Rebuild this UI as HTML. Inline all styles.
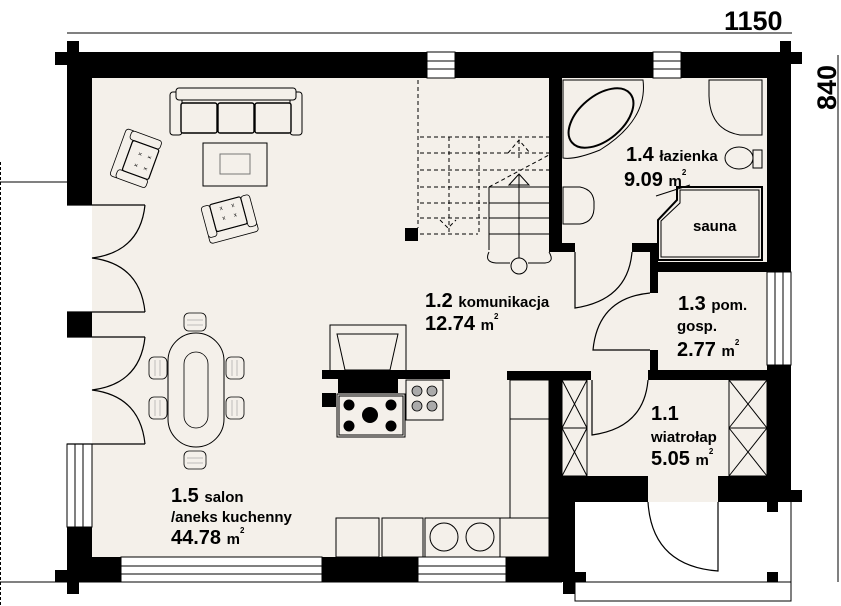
<!DOCTYPE html>
<html><head><meta charset="utf-8"><style>
html,body{margin:0;padding:0;background:#fff;}
svg{display:block;}
text{font-family:"Liberation Sans Narrow","Liberation Sans",sans-serif;font-weight:bold;fill:#000;}
</style></head><body>
<svg width="841" height="606" viewBox="0 0 841 606" xmlns="http://www.w3.org/2000/svg">
<defs>
<g id="chair">
 <rect x="-25" y="-18" width="50" height="10" rx="3" fill="#f4f0ea" stroke="#000" stroke-width="0.8"/>
 <rect x="-25" y="-12" width="9" height="32" rx="3" fill="#f4f0ea" stroke="#000" stroke-width="0.8"/>
 <rect x="16" y="-12" width="9" height="32" rx="3" fill="#f4f0ea" stroke="#000" stroke-width="0.8"/>
 <rect x="-16" y="-8" width="32" height="28" rx="2" fill="#f4f0ea" stroke="#000" stroke-width="1.2"/>
 <text x="-8" y="5" style="font-size:6px;font-weight:normal">x</text><text x="4" y="5" style="font-size:6px;font-weight:normal">x</text>
 <text x="-8" y="15" style="font-size:6px;font-weight:normal">x</text><text x="4" y="15" style="font-size:6px;font-weight:normal">x</text>
</g>
<g id="dchair">
 <rect x="-11" y="-9" width="22" height="18" rx="5" fill="#f4f0ea" stroke="#000" stroke-width="0.8"/>
 <line x1="-8" y1="-2" x2="8" y2="-2" stroke="#999" stroke-width="0.6"/>
 <line x1="-8" y1="3" x2="8" y2="3" stroke="#999" stroke-width="0.6"/>
</g>
</defs>

<rect x="92" y="78" width="675" height="479" fill="#f4f0ea"/>
<rect x="575" y="502" width="216" height="80" fill="#fff"/>

<line x1="67" y1="33" x2="792" y2="33" stroke="#000" stroke-width="1"/>
<text x="724" y="30" style="font-size:27px">1150</text>
<line x1="838" y1="55" x2="838" y2="582" stroke="#000" stroke-width="1"/>
<text transform="translate(836,110) rotate(-90)" style="font-size:27px">840</text>
<line x1="0.5" y1="162" x2="0.5" y2="606" stroke="#000" stroke-width="1" stroke-dasharray="3,2"/>
<line x1="0" y1="182" x2="67" y2="182" stroke="#000" stroke-width="1"/>
<line x1="0" y1="582" x2="562" y2="582" stroke="#000" stroke-width="1"/>

<g fill="#000">
 <rect x="67" y="52" width="724" height="26"/>
 <rect x="67" y="41" width="12" height="11"/><rect x="55" y="52" width="12" height="13"/>
 <rect x="780" y="41" width="11" height="11"/><rect x="791" y="52" width="11" height="12"/>
 <rect x="67" y="52" width="25" height="153"/>
 <rect x="67" y="312" width="25" height="25"/>
 <rect x="67" y="527" width="25" height="55"/>
 <rect x="67" y="557" width="495" height="25"/>
 <rect x="55" y="570" width="12" height="12"/><rect x="67" y="582" width="12" height="12"/>
 <rect x="767" y="52" width="24" height="220"/>
 <rect x="767" y="365" width="24" height="137"/>
 <rect x="791" y="490" width="11" height="12"/>
 <rect x="549" y="78" width="13" height="174"/>
 <rect x="549" y="243" width="26" height="9"/>
 <rect x="632" y="243" width="26" height="9"/>
 <rect x="650" y="243" width="8" height="50"/>
 <rect x="650" y="262" width="117" height="10"/>
 <rect x="650" y="350" width="8" height="30"/>
 <rect x="648" y="370" width="119" height="10"/>
 <rect x="507" y="371" width="84" height="9"/>
 <rect x="549" y="371" width="13" height="211"/>
 <rect x="549" y="476" width="26" height="106"/>
 <rect x="562" y="476" width="86" height="26"/>
 <rect x="718" y="476" width="73" height="26"/>
 <rect x="563" y="582" width="12" height="12"/>
 <rect x="405" y="228" width="13" height="13"/>
 <rect x="767" y="502" width="11" height="10"/>
 <rect x="767" y="572" width="11" height="10"/>
 <rect x="575" y="572" width="11" height="10"/>
</g>
<rect x="575" y="582" width="216" height="19" fill="none" stroke="#000" stroke-width="1"/>
<line x1="791" y1="502" x2="791" y2="582" stroke="#000"/>

<g stroke="#000" stroke-width="1" fill="#fff">
 <rect x="427" y="52" width="28" height="26"/><line x1="427" y1="61" x2="455" y2="61"/><line x1="427" y1="69" x2="455" y2="69"/>
 <rect x="653" y="52" width="28" height="26"/><line x1="653" y1="61" x2="681" y2="61"/><line x1="653" y1="69" x2="681" y2="69"/>
 <rect x="121" y="557" width="201" height="25"/><line x1="121" y1="566" x2="322" y2="566"/><line x1="121" y1="574" x2="322" y2="574"/>
 <rect x="418" y="557" width="88" height="25"/><line x1="418" y1="566" x2="506" y2="566"/><line x1="418" y1="574" x2="506" y2="574"/>
 <rect x="67" y="444" width="25" height="83"/><line x1="75" y1="444" x2="75" y2="527"/><line x1="83" y1="444" x2="83" y2="527"/>
 <rect x="767" y="272" width="24" height="93"/><line x1="775" y1="272" x2="775" y2="365"/><line x1="783" y1="272" x2="783" y2="365"/>
</g>
<rect x="322" y="557" width="96" height="25" fill="#000"/>
<rect x="506" y="557" width="56" height="25" fill="#000"/>

<g fill="none" stroke="#000" stroke-width="1.2">
 <path d="M67 205H145M67 312H145M145 205Q140 252 92 258Q140 264 145 312"/>
 <path d="M67 337H145M67 444H145M145 337Q140 384 92 390Q140 396 145 444"/>
 <path d="M575 252V308Q628 300 632 252"/>
 <path d="M650 350H593Q598 298 650 293"/>
 <path d="M592 380V435Q644 428 648 380"/>
 <path d="M718 502V571Q652 566 648 502"/>
</g>

<g fill="none" stroke="#000" stroke-width="1">
 <g stroke-dasharray="4,3">
  <line x1="418" y1="80" x2="418" y2="228"/>
  <line x1="420" y1="137" x2="549" y2="137"/>
  <line x1="420" y1="153" x2="549" y2="153"/>
  <line x1="420" y1="170" x2="549" y2="170"/>
  <line x1="420" y1="187" x2="489" y2="187"/>
  <line x1="420" y1="203" x2="489" y2="203"/>
  <line x1="420" y1="218" x2="489" y2="218"/>
  <line x1="420" y1="234" x2="478" y2="234"/>
  <line x1="449" y1="137" x2="449" y2="234"/>
  <line x1="479" y1="137" x2="479" y2="234"/>
  <line x1="489" y1="187" x2="549" y2="155"/>
  <path d="M508 153L519 140L530 153M519 140V160M440 220L448 228L456 220"/>
 </g>
 <path d="M489 187H549M489 203H549M489 218H549M489 234H549M489 187V250"/>
 <path d="M489 252Q484 262 496 263H510M528 263H545Q555 262 549 252"/>
 <line x1="519" y1="175" x2="519" y2="258"/>
 <path d="M509 185L519 174L529 185Z"/>
 <circle cx="519" cy="266" r="8"/>
</g>

<g fill="#f4f0ea" stroke="#000" stroke-width="1">
 <path d="M563 80H643Q648 120 600 150Q575 160 563 158Z"/>
 <ellipse cx="601" cy="118" rx="38" ry="22" transform="rotate(-40 601 118)" stroke-width="2"/>
 <path d="M709 80H762V135H740Q710 130 709 96Z"/>
 <ellipse cx="739" cy="158" rx="14" ry="11"/>
 <rect x="753" y="150" width="9" height="18"/>
 <path d="M563 187H580Q595 190 594 205Q595 222 580 224H563Z"/>
 <path d="M677 187H762V260H658V220L677 200Z" stroke-width="2"/>
 <path d="M680 190H759V257H661V221L680 203Z" fill="none"/>
 <line x1="656" y1="196" x2="690" y2="185"/>
</g>

<g fill="#f4f0ea" stroke="#000" stroke-width="1">
 <rect x="170" y="92" width="12" height="43" rx="3"/>
 <rect x="290" y="92" width="12" height="43" rx="3"/>
 <rect x="176" y="88" width="120" height="12" rx="3"/>
 <rect x="181" y="103" width="36" height="30" rx="2" stroke-width="1.4"/>
 <rect x="218" y="103" width="36" height="30" rx="2" stroke-width="1.4"/>
 <rect x="255" y="103" width="36" height="30" rx="2" stroke-width="1.4"/>
 <rect x="203" y="143" width="64" height="43"/>
 <rect x="220" y="154" width="30" height="20" stroke="#777"/>
</g>
<use href="#chair" transform="translate(135,158) rotate(-70)"/>
<use href="#chair" transform="translate(230,220) rotate(165)"/>

<use href="#dchair" transform="translate(195,322)"/>
<use href="#dchair" transform="translate(195,460)"/>
<use href="#dchair" transform="translate(158,368) rotate(90)"/>
<use href="#dchair" transform="translate(158,408) rotate(90)"/>
<use href="#dchair" transform="translate(235,368) rotate(90)"/>
<use href="#dchair" transform="translate(235,408) rotate(90)"/>
<rect x="168" y="333" width="56" height="114" rx="28" fill="#f4f0ea" stroke="#000" stroke-width="1"/>
<rect x="184" y="352" width="24" height="76" rx="12" fill="none" stroke="#000" stroke-width="0.8"/>

<g fill="#f4f0ea" stroke="#000" stroke-width="1">
 <rect x="330" y="325" width="76" height="48"/>
 <path d="M337 334H398L390 370H345Z"/>
 <rect x="337" y="394" width="68" height="43"/>
 <rect x="339" y="396" width="64" height="39" fill="none"/>
 <rect x="406" y="380" width="37" height="40"/>
 <rect x="510" y="380" width="39" height="140"/>
 <line x1="510" y1="419" x2="549" y2="419"/>
 <rect x="336" y="518" width="43" height="39"/>
 <rect x="382" y="518" width="41" height="39"/>
 <rect x="425" y="518" width="75" height="39"/>
 <rect x="500" y="518" width="49" height="39"/>
 <circle cx="444" cy="537" r="14"/><circle cx="480" cy="537" r="14"/>
</g>
<g fill="#000">
 <rect x="322" y="370" width="128" height="9"/>
 <rect x="338" y="370" width="60" height="23"/>
 <rect x="322" y="393" width="14" height="14"/>
 <circle cx="349" cy="405" r="5.5"/><circle cx="391" cy="405" r="5.5"/>
 <circle cx="349" cy="426" r="5.5"/><circle cx="391" cy="426" r="5.5"/>
 <circle cx="370" cy="415" r="8"/>
</g>
<g fill="#aaa" stroke="#000" stroke-width="0.8">
 <circle cx="417" cy="391" r="5"/><circle cx="432" cy="391" r="5"/>
 <circle cx="417" cy="406" r="5"/><circle cx="432" cy="406" r="5"/>
</g>

<g fill="#f4f0ea" stroke="#000" stroke-width="1">
 <rect x="562" y="380" width="25" height="96"/>
 <path d="M562 380L587 428M587 380L562 428M562 428H587M562 428L587 476M587 428L562 476"/>
 <rect x="729" y="380" width="38" height="96"/>
 <path d="M729 380L767 428M767 380L729 428M729 428H767M729 428L767 476M767 428L729 476"/>
</g>

<text x="626" y="161" style="font-size:20px">1.4 <tspan style="font-size:15px">łazienka</tspan></text>
<text x="624" y="186" style="font-size:20px">9.09 <tspan style="font-size:15px">m</tspan><tspan style="font-size:8px" dy="-11">2</tspan></text>
<text x="693" y="231" style="font-size:15px">sauna</text>
<text x="425" y="307" style="font-size:20px">1.2 <tspan style="font-size:15px">komunikacja</tspan></text>
<text x="425" y="330" style="font-size:20px">12.74 <tspan style="font-size:15px">m</tspan><tspan style="font-size:8px" dy="-11">2</tspan></text>
<text x="678" y="310" style="font-size:20px">1.3 <tspan style="font-size:15px">pom.</tspan></text>
<text x="677" y="331" style="font-size:15px">gosp.</text>
<text x="677" y="356" style="font-size:20px">2.77 <tspan style="font-size:15px">m</tspan><tspan style="font-size:8px" dy="-11">2</tspan></text>
<text x="651" y="420" style="font-size:20px">1.1</text>
<text x="651" y="442" style="font-size:15px">wiatrołap</text>
<text x="651" y="465" style="font-size:20px">5.05 <tspan style="font-size:15px">m</tspan><tspan style="font-size:8px" dy="-11">2</tspan></text>
<text x="171" y="502" style="font-size:20px">1.5 <tspan style="font-size:15px">salon</tspan></text>
<text x="171" y="522" style="font-size:15px">/aneks kuchenny</text>
<text x="171" y="544" style="font-size:20px">44.78 <tspan style="font-size:15px">m</tspan><tspan style="font-size:8px" dy="-11">2</tspan></text>
</svg>
</body></html>
